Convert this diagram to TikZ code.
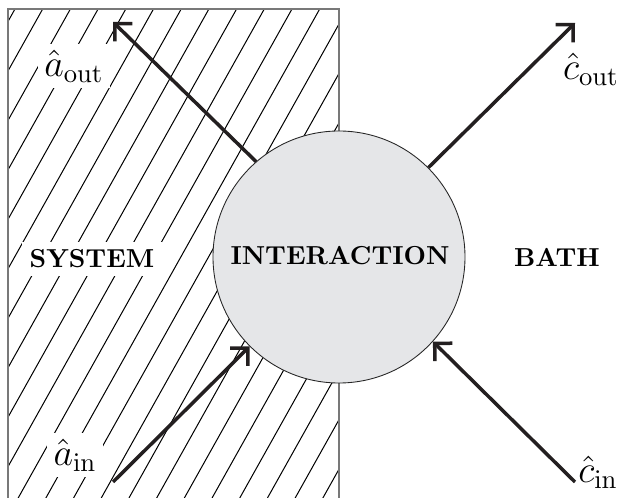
\RequirePackage{fix-cm}
\documentclass[tikz,border=0pt]{standalone}
\usetikzlibrary{arrows.meta}
\definecolor{intfill}{RGB}{229,230,232}
\definecolor{arrcol}{RGB}{35,31,32}
\definecolor{framecol}{RGB}{120,120,120}
\tikzset{
  hatchline/.style={line width=0.4pt, black},
  framelines/.style={line width=0.55pt, framecol},
  bignode/.style={circle, draw=black!85, line width=0.35pt, fill=intfill, minimum size=100.8pt, inner sep=0pt},
  arr/.style={line width=1.4pt, arrcol, -{Straight Barb[length=5pt,width=10pt]}},
  mathlab/.style={fill=white, inner sep=2.5pt, font=\fontsize{15.2}{18}\selectfont},
  textlab/.style={fill=white, inner sep=3pt, font=\fontsize{10.4}{12}\selectfont\bfseries},
  plainlab/.style={inner sep=0pt, font=\fontsize{10.4}{12}\selectfont\bfseries}
}
\begin{document}
\begin{tikzpicture}[x=0.4pt, y=-0.4pt]
\useasboundingbox (0,0) rectangle (627,498);
% hatching of the system region
\begin{scope}
  \clip (8,9) rectangle (339,498);
  \foreach \k in {0,...,23} {
    \draw[hatchline] ({15+27.7*\k},9) -- ++({-0.56*489},489);
  }
\end{scope}
\draw[framelines] (8,498) -- (8,9) -- (339,9) -- (339,498);
% labels in the system region
\node[textlab] (sys) at (92,259) {SYSTEM};
\node[mathlab] (aout) at (74,66) {$\hat{a}_{\mathrm{out}}$};
\node[mathlab] (ain) at (75,455) {$\hat{a}_{\mathrm{in}}$};
% interaction
\node[bignode] (int) at (339,257) {};
\node[plainlab] (intlab) at (340,256) {INTERACTION};
% bath
\node[plainlab] (bath) at (557,257) {BATH};
\node[mathlab] (cout) at (591,69) {$\hat{c}_{\mathrm{out}}$};
\node[mathlab] (cin) at (598,472) {$\hat{c}_{\mathrm{in}}$};
% arrow end points
\coordinate (aoutE) at (113,22);
\coordinate (coutE) at (575,23);
\coordinate (ainS) at (113,482);
\coordinate (cinS) at (575,482);
\draw[arr] (int.131) -- (aoutE);
\draw[arr] (int.45) -- (coutE);
\draw[arr] (ainS) -- (int.-135);
\draw[arr] (cinS) -- (int.-42.5);
\end{tikzpicture}
\end{document}
